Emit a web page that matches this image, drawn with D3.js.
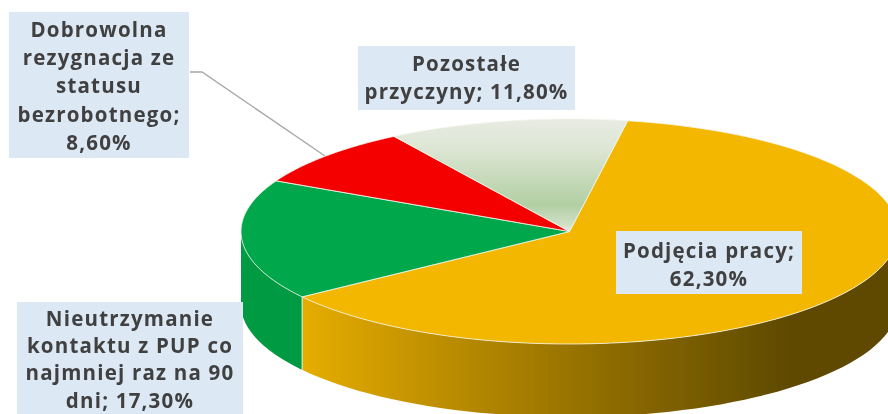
<!DOCTYPE html>
<html><head><meta charset="utf-8">
<script src="https://cdnjs.cloudflare.com/ajax/libs/d3/7.8.5/d3.min.js"></script>
<style>html,body{margin:0;padding:0;background:#fff}svg{display:block}</style></head>
<body><svg id="c" width="888" height="414"></svg>
<script>
const categories = ["Podjęcia pracy","Nieutrzymanie kontaktu z PUP co najmniej raz na 90 dni","Dobrowolna rezygnacja ze statusu bezrobotnego","Pozostałe przyczyny"];
const values = [62.3,17.3,8.6,11.8];
const valueLabels = ["62,30%","17,30%","8,60%","11,80%"];
const labelLines = [
  ["Podjęcia pracy;","62,30%"],
  ["Nieutrzymanie","kontaktu z PUP co","najmniej raz na 90","dni; 17,30%"],
  ["Dobrowolna","rezygnacja ze","statusu","bezrobotnego;","8,60%"],
  ["Pozostałe","przyczyny; 11,80%"]
];
const topColors = ["#f3b700","#00a84c","#f50000","url(#gGrey)"];
const boxes = [
  {x:616,y:231,w:186,h:63,base:258,step:28},
  {x:17,y:302,w:226,h:112,base:326,step:27.2},
  {x:9,y:12,w:180,h:146,base:37,step:28.2},
  {x:358,y:46,w:217,h:64,base:71,step:28}
];

const cx=569.5,cy=231.5,rx=328.5,ry=112.5,depth=73,start=10.2*Math.PI/180;
const svg=d3.select("#c");
const defs=svg.append("defs");
function grad(id,attrs,stops){const g=defs.append("linearGradient").attr("id",id).attr("gradientUnits","userSpaceOnUse");
  Object.entries(attrs).forEach(([k,v])=>g.attr(k,v));
  stops.forEach(s=>g.append("stop").attr("offset",s[0]).attr("stop-color",s[1]));}
grad("gGrey",{x1:0,x2:0,y1:119,y2:232},[[0,"#e8ebe3"],[.27,"#dde6d4"],[.5,"#c8dbbc"],[.76,"#b2cfa3"],[.93,"#cfdfc6"],[1,"#e5ece0"]]);
grad("gWall",{x1:302,x2:790,y1:0,y2:0},[[0,"#e6ad00"],[.2,"#c99700"],[.45,"#a67d00"],[.7,"#856500"],[1,"#5f4a00"]]);
const blur=defs.append("filter").attr("id","soft").attr("x","-5%").attr("y","-5%").attr("width","110%").attr("height","110%");
blur.append("feGaussianBlur").attr("stdDeviation",0.5);

const root=svg.append("g").attr("filter","url(#soft)");
const pie=d3.pie().sort(null).startAngle(start).endAngle(start+2*Math.PI);
const arcs=pie(values);
const sx=d3.scaleLinear().domain([-1,1]).range([cx-rx,cx+rx]);
const sy=d3.scaleLinear().domain([-1,1]).range([cy-ry,cy+ry]);
const px=a=>sx(Math.sin(a)), py=a=>sy(-Math.cos(a));

// side wall: only the front half of the rim is visible
const wallFill=["url(#gWall)","#009a43",null,null];
arcs.forEach((d,i)=>{
  const a0=Math.max(d.startAngle,Math.PI/2),a1=Math.min(d.endAngle,3*Math.PI/2);
  if(a1<=a0||!wallFill[i])return;
  const t=d3.range(0,61).map(k=>a0+(a1-a0)*k/60);
  const pts=t.map(a=>[px(a),py(a)]).concat(t.slice().reverse().map(a=>[px(a),py(a)+depth]));
  root.append("path").attr("d",d3.line()(pts)+"Z").attr("fill",wallFill[i]);
  if(a0>Math.PI/2) root.append("path").attr("d",d3.line()([[px(a0),py(a0)],[px(a0),py(a0)+depth]])).attr("stroke","#e8efe0").attr("stroke-width",1);
});

// top face, with every slice in absolute space so the gradient stays vertical
arcs.forEach((d,i)=>{
  const T=d3.range(0,121).map(k=>d.startAngle+(d.endAngle-d.startAngle)*k/120);
  root.append("path").attr("d",d3.line()([[sx(0),sy(0)]].concat(T.map(a=>[px(a),py(a)])))+"Z")
    .attr("fill",topColors[i]).attr("stroke","#f4f6ee").attr("stroke-width",0.8);
});

// leader line
root.append("path").attr("d",d3.line()([[190,72],[202,72],[325,156]])).attr("fill","none").attr("stroke","#a6a6a6").attr("stroke-width",1.3);

// labels
arcs.forEach((d,i)=>{
  const b=boxes[i];
  root.append("rect").attr("x",b.x).attr("y",b.y).attr("width",b.w).attr("height",b.h).attr("fill","#dde8f5");
  const t=root.append("text").attr("text-anchor","middle").attr("font-family","'Open Sans', sans-serif").attr("font-size",20.5).attr("font-weight",700).attr("letter-spacing",1.2).attr("fill","#404040");
  labelLines[i].forEach((line,k)=>{
    t.append("tspan").attr("x",b.x+b.w/2).attr("y",b.base+k*b.step).text(line);
  });
});
</script></body></html>
